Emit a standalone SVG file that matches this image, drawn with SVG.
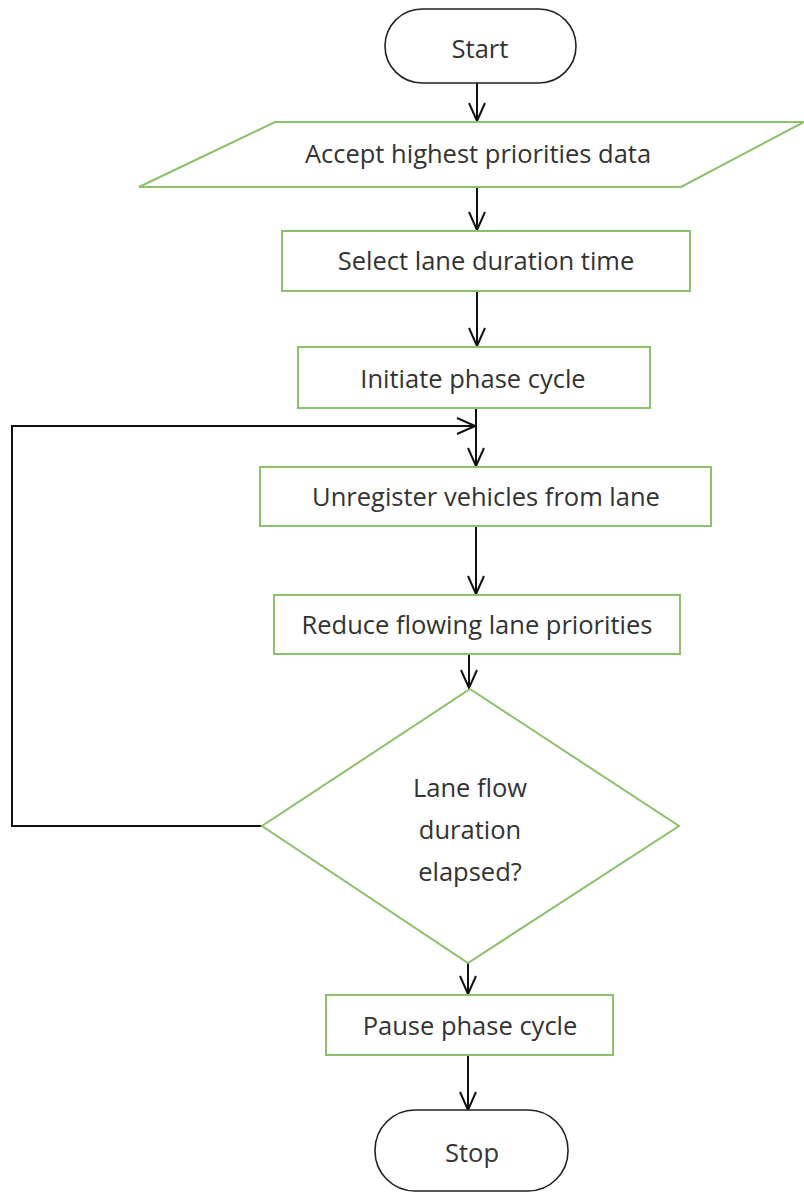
<svg xmlns="http://www.w3.org/2000/svg" width="804" height="1194" viewBox="0 0 804 1194">
  <defs>
    <marker id="arrow" viewBox="0 0 20 18" refX="19" refY="9" markerWidth="20" markerHeight="18" markerUnits="userSpaceOnUse" orient="auto">
      <polyline points="1,1 19,9 1,17" fill="none" stroke="#111" stroke-width="2"/>
    </marker>
    <style>
      .term { fill: #fff; stroke: #222; stroke-width: 1.6; }
      .step { fill: #fff; stroke: #8cc16b; stroke-width: 2; }
      .lbl { font-family: "Open Sans", "Liberation Sans", sans-serif; font-size: 25.5px; fill: #333; text-anchor: middle; dominant-baseline: central; }
      .conn { fill: none; stroke: #111; stroke-width: 2; }
    </style>
  </defs>
  <rect width="804" height="1194" fill="#fff"/>

  <g id="connectors">
    <line class="conn" x1="477" y1="83" x2="477" y2="121" marker-end="url(#arrow)"/>
    <line class="conn" x1="477" y1="187" x2="477" y2="230" marker-end="url(#arrow)"/>
    <line class="conn" x1="477" y1="291" x2="477" y2="346" marker-end="url(#arrow)"/>
    <line class="conn" x1="476" y1="408" x2="476" y2="466" marker-end="url(#arrow)"/>
    <line class="conn" x1="476" y1="526" x2="476" y2="594" marker-end="url(#arrow)"/>
    <line class="conn" x1="469" y1="654" x2="469" y2="688" marker-end="url(#arrow)"/>
    <polyline class="conn" points="262,826 12,826 12,426 475,426" marker-end="url(#arrow)"/>
    <line class="conn" x1="468" y1="963" x2="468" y2="994" marker-end="url(#arrow)"/>
    <line class="conn" x1="468" y1="1055" x2="468" y2="1110" marker-end="url(#arrow)"/>
  </g>

  <g id="start">
    <rect class="term" x="385" y="9" width="191" height="74" rx="37"/>
    <text class="lbl" x="480" y="48">Start</text>
  </g>

  <g id="accept-data">
    <polygon class="step" points="275,122 804,122 681,187 139,187"/>
    <text class="lbl" x="478" y="153">Accept highest priorities data</text>
  </g>

  <g id="select-duration">
    <rect class="step" x="282" y="231" width="408" height="60"/>
    <text class="lbl" x="486" y="260">Select lane duration time</text>
  </g>

  <g id="initiate-cycle">
    <rect class="step" x="298" y="347" width="352" height="61"/>
    <text class="lbl" x="473" y="378">Initiate phase cycle</text>
  </g>

  <g id="unregister-vehicles">
    <rect class="step" x="260" y="467" width="451" height="59"/>
    <text class="lbl" x="486" y="496">Unregister vehicles from lane</text>
  </g>

  <g id="reduce-priorities">
    <rect class="step" x="274" y="595" width="406" height="59"/>
    <text class="lbl" x="477" y="624">Reduce flowing lane priorities</text>
  </g>

  <g id="duration-elapsed">
    <polygon class="step" points="470,689 679,826 468,963 262,826"/>
    <text class="lbl" x="470" y="787">Lane flow</text>
    <text class="lbl" x="470" y="829">duration</text>
    <text class="lbl" x="470" y="871">elapsed?</text>
  </g>

  <g id="pause-cycle">
    <rect class="step" x="326" y="995" width="287" height="60"/>
    <text class="lbl" x="470" y="1025">Pause phase cycle</text>
  </g>

  <g id="stop">
    <rect class="term" x="375" y="1110" width="193" height="81" rx="40"/>
    <text class="lbl" x="472" y="1152">Stop</text>
  </g>
</svg>
